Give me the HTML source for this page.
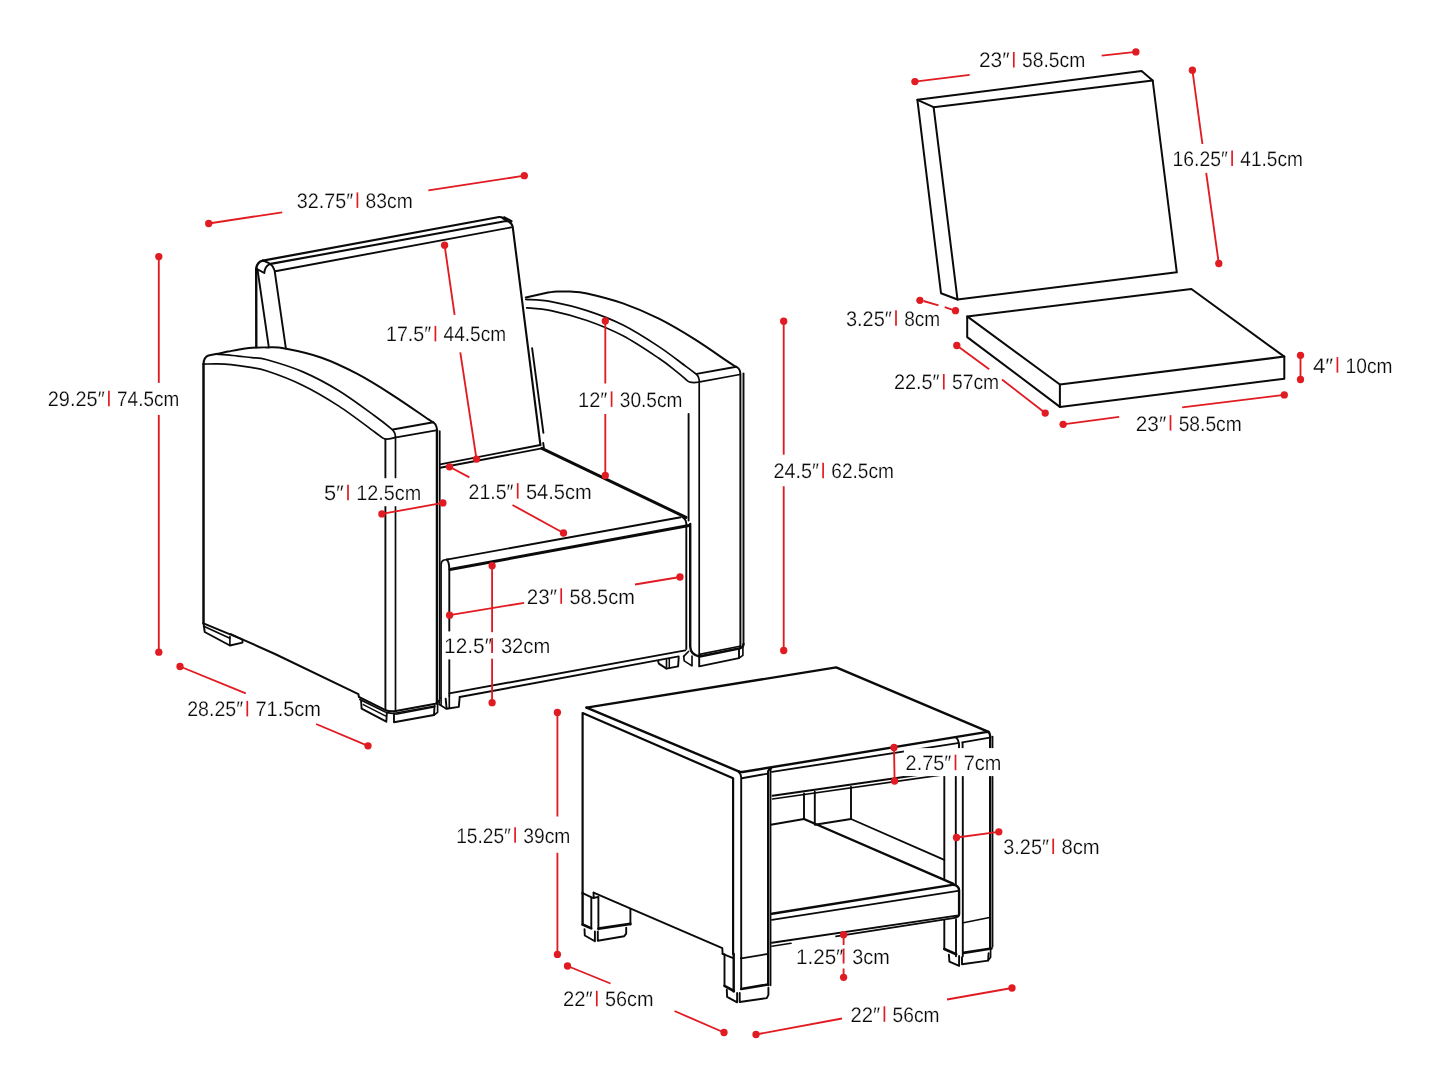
<!DOCTYPE html>
<html><head><meta charset="utf-8"><title>Patio set dimensions</title>
<style>
html,body{margin:0;padding:0;background:#fff;}
body{width:1445px;height:1084px;overflow:hidden;}
svg{display:block;will-change:transform;}
text{font-family:"Liberation Sans",sans-serif;font-size:21.0px;fill:#0a0a0a;stroke:#fff;stroke-width:0.2px;text-rendering:geometricPrecision;}
</style></head><body>
<svg width="1445" height="1084" viewBox="0 0 1445 1084">
<rect width="1445" height="1084" fill="#fff"/>
<g fill="none" stroke="#0a0a0a" stroke-linecap="round" stroke-linejoin="round">
<path d="M262.9,260.6 L499.1,217.0 Q501.5,216.9 503.0,218.2 L506.5,220.4" stroke-width="2.2"/>
<path d="M504.1,217.3 L511.5,221.2" stroke-width="2.2"/>
<path d="M270.7,263.9 L506.1,221.0 Q511.4,221.2 512.7,226.8 L540.4,445.0" stroke-width="2.1"/>
<path d="M275.3,271.2 L511.1,227.4" stroke-width="1.9"/>
<path d="M256.2,268.7 C256.8,263.5 259.5,261.2 262.9,260.6" stroke-width="2.4"/>
<path d="M256.2,268.7 L264.3,273.0 C264.6,268.6 266.5,265.6 269.3,264.3" stroke-width="1.9"/>
<path d="M262.9,260.6 C267.0,262.0 272.8,263.5 274.6,270.5 L285.9,348.6" stroke-width="1.9"/>
<path d="M256.2,268.7 L256.3,347.0" stroke-width="2.4"/>
<path d="M257.5,269.5 L268.8,347.2" stroke-width="1.9"/>
<path d="M532.1,348.2 L543.4,432.9" stroke-width="1.9"/>
<path d="M203.5,364.1 C203.6,359.5 204.8,356.8 208.5,355.5 L208.5,355.5 C209.8,355.3 212.8,354.8 216.0,354.1 C219.2,353.5 224.3,352.3 228.0,351.6 C231.7,350.9 234.5,350.3 238.0,349.7 C241.5,349.1 244.2,348.4 249.0,348.0 C253.8,347.6 261.0,347.3 267.0,347.4 C273.0,347.5 276.0,346.8 285.0,348.5 C294.0,350.2 308.9,353.3 320.9,357.5 C332.9,361.7 344.9,367.4 356.9,373.7 C368.9,380.0 380.9,387.6 392.9,395.3 C404.9,403.0 422.0,415.0 428.9,419.6 C435.8,424.2 433.4,422.6 434.3,423.2 Q436.8,425.2 437.0,430.4 L437.0,703.4" stroke-width="2.0"/>
<path d="M216.0,354.1 C217.8,354.2 223.3,354.6 227.0,354.9 C230.7,355.2 233.8,355.7 238.0,356.1 C242.2,356.6 247.2,357.0 252.0,357.6 C256.8,358.2 258.5,357.4 267.0,359.8 C275.5,362.2 291.0,366.7 303.0,371.9 C315.0,377.1 326.9,383.4 338.9,390.8 C350.9,398.2 366.2,409.7 374.9,416.0 C383.6,422.3 387.8,425.8 391.1,428.6 C394.4,431.4 394.1,432.3 394.7,433.0 Q395.5,435 395.5,438 L395.5,711.0" stroke-width="1.7"/>
<path d="M203.5,364.1 C205.8,364.1 212.8,363.8 217.4,363.9 C222.0,364.0 225.7,364.1 231.0,364.6 C236.3,365.2 243.0,366.1 249.0,367.2 C255.0,368.3 258.0,368.0 267.0,371.0 C276.0,374.0 291.0,379.5 303.0,385.4 C315.0,391.2 326.9,398.3 338.9,406.1 C350.9,413.9 367.7,426.9 374.9,432.2 C382.1,437.4 380.9,436.7 382.1,437.6 Q386,440.5 394.7,437.6 L436.1,430.4" stroke-width="1.7"/>
<path d="M385.4,439.5 L385.4,710.0" stroke-width="1.9"/>
<path d="M392.9,429.5 L433.4,422.3" stroke-width="1.9"/>
<path d="M439.8,431.0 L439.8,698.0" stroke-width="1.6"/>
<path d="M203.5,364.1 L203.5,623.3" stroke-width="2.5"/>
<path d="M203.5,623.3 L243.4,639.8 L275.0,654.0 L358.4,694.2 L358.9,697.0 L384.5,709.6 Q390,712.2 395.8,710.9 L435.4,703.7 Q437.8,703.0 438.1,701.0" stroke-width="2.0"/>
<path d="M437.0,430.4 L437.0,703.4" stroke-width="2.5"/>
<path d="M359.8,699.6 L384.8,711.8 Q390,714.0 396.0,713.0 L435.0,706.0" stroke-width="1.65"/>
<path d="M361.1,701.0 L361.6,708.7 L386.3,721.7 L386.8,713.2" stroke-width="1.9"/>
<path d="M363.3,704.6 L385.4,715.9" stroke-width="1.5"/>
<path d="M394.0,713.4 L394.0,722.2 L434.0,715.0 L434.5,706.2" stroke-width="1.9"/>
<path d="M395.8,714.2 L434.0,707.0" stroke-width="1.5"/>
<path d="M434.0,715.0 L437.6,712.3 L437.6,704.2" stroke-width="1.65"/>
<path d="M439.9,697.9 L439.0,704.2 L446.2,708.7" stroke-width="1.65"/>
<path d="M203.7,624.5 L204.7,632 L229.9,645.5 L242.5,642.6 L242.5,639.7 L230.8,634.0" stroke-width="1.9"/>
<path d="M229.9,636.5 L229.9,645.5" stroke-width="1.65"/>
<path d="M203.7,626.2 L229.9,638.2" stroke-width="1.65"/>
<path d="M525.8,297.6 L548,292.6 Q551,292 553.7,291.7 L553.7,291.7 C556.4,291.7 564.5,291.2 570.0,291.5 C575.5,291.8 578.2,291.5 587.0,293.5 C595.8,295.5 611.0,299.2 623.0,303.4 C635.0,307.6 646.9,312.7 658.9,318.7 C670.9,324.7 682.9,331.9 694.9,339.4 C706.9,346.9 723.8,359.0 730.9,363.7 C738.0,368.4 736.2,366.7 737.2,367.3 Q740.4,369.5 740.4,374.5 L740.4,648.0" stroke-width="2.0"/>
<path d="M525.8,299.4 C530.0,299.8 540.8,299.7 551.0,301.6 C561.2,303.5 575.0,306.7 587.0,310.6 C599.0,314.5 611.0,319.0 623.0,325.0 C635.0,331.0 648.4,339.7 658.9,346.6 C669.4,353.5 679.6,361.8 685.9,366.4 C692.2,371.0 694.9,373.1 696.7,374.5 Q699.1,376.5 699.2,380 L699.2,656.5" stroke-width="1.7"/>
<path d="M526.7,307.9 C530.8,308.3 541.0,308.5 551.0,310.6 C561.0,312.7 575.0,316.3 587.0,320.5 C599.0,324.7 611.0,329.5 623.0,335.8 C635.0,342.1 649.9,352.3 658.9,358.3 C667.9,364.3 672.3,368.2 676.9,371.8 C681.5,375.4 684.9,378.6 686.5,380.0 Q689.5,383.5 698.5,382.2 L739.9,374.5" stroke-width="1.7"/>
<path d="M696.7,373.9 L736.3,366.7" stroke-width="1.9"/>
<path d="M743.5,373.5 L743.5,644.0" stroke-width="1.9"/>
<path d="M688.6,414.0 L688.6,520.5" stroke-width="1.9"/>
<path d="M690.2,524.0 L690.2,646.5 Q690.4,654.8 699.7,656.5 L740.2,648.2 Q743.3,647.4 743.5,644.0" stroke-width="2.4"/>
<path d="M699.4,654.4 L739.8,646.2" stroke-width="1.65"/>
<path d="M699.2,657.0 L699.2,666.4 L739.0,658.1 L739.0,649.5" stroke-width="1.9"/>
<path d="M739.0,658.1 L742.9,655.3 L742.9,647.0" stroke-width="1.65"/>
<path d="M683.7,656.4 L684.2,660.9 L692.0,665.9 L692.0,656.0" stroke-width="1.65"/>
<path d="M683.7,656.4 L688.5,651.5" stroke-width="1.65"/>
<path d="M440.1,464.4 L540.4,445.0" stroke-width="1.9"/>
<path d="M440.1,467.8 L541.8,448.4" stroke-width="1.9"/>
<path d="M543.2,442.9 L543.9,447.8" stroke-width="1.9"/>
<path d="M541.8,448.4 L686.0,517.4" stroke-width="3.0"/>
<path d="M683.0,517.7 Q686.5,519.5 686.4,525.9" stroke-width="1.9"/>
<path d="M446.6,559.6 L680.8,517.3" stroke-width="1.9"/>
<path d="M449.9,569.5 L689.0,525.5" stroke-width="3.0"/>
<path d="M448.5,559.3 L444.2,560.0 Q441.2,560.7 441.1,564.2 L441.1,704.4" stroke-width="1.6"/>
<path d="M446.6,559.6 Q449.2,561.5 449.3,569.9 L449.3,696" stroke-width="1.9"/>
<path d="M686.3,525.9 L686.3,649.1" stroke-width="1.9"/>
<path d="M449.3,693.4 L685.3,650.4" stroke-width="1.9"/>
<path d="M459.7,697.0 L678.7,656.4" stroke-width="1.9"/>
<path d="M658.2,661.4 L658.8,663.6 L666.5,668.6 L678.1,666.4 L678.7,657.6" stroke-width="1.9"/>
<path d="M666.5,659.8 L666.5,668.6" stroke-width="1.65"/>
<path d="M669.3,659.3 L669.3,667.8" stroke-width="1.5"/>
<path d="M445.7,698.8 L446.6,708.7 L458.8,706.9 L459.7,697.0" stroke-width="1.9"/>
<path d="M449.3,696.0 L449.3,708.0" stroke-width="1.65"/>
<path d="M586.5,707.6 L836.2,667.4 L988.6,731.9" stroke-width="2.4"/>
<path d="M586.5,707.6 L738.6,771.3" stroke-width="2.4"/>
<path d="M738.6,771.3 Q740.5,772.3 742.5,772.0 L984.2,732.4 L988.6,731.9 Q990.2,733.4 990.3,737.0" stroke-width="2.4"/>
<path d="M582.6,893.4 L582.6,713.0 L733.1,778.3 L733.1,954.0" stroke-width="2.2"/>
<path d="M738.8,772.2 Q741.1,773.8 741.2,777.5 L741.2,958.4" stroke-width="1.9"/>
<path d="M741.8,778.2 L768.0,773.6" stroke-width="1.9"/>
<path d="M593.6,892.6 L722.3,948.1 L722.6,953.9" stroke-width="1.9"/>
<path d="M768.2,985 L768.2,771.5 Q769,768.6 771.0,768.6" stroke-width="2.4"/>
<path d="M770.6,769.0 L770.6,985.5" stroke-width="1.65"/>
<path d="M771.9,771.9 L957.8,743.1" stroke-width="1.9"/>
<path d="M962.3,742.4 L989.7,737.6" stroke-width="1.9"/>
<path d="M772.5,795.7 L944.0,771.3" stroke-width="1.9"/>
<path d="M772.5,799.0 L944.0,774.6" stroke-width="1.65"/>
<path d="M770.8,824.8 L804.0,819.0" stroke-width="1.9"/>
<path d="M804.0,793.5 L804.0,819.0" stroke-width="1.9"/>
<path d="M814.8,791.8 L814.8,824.8 L851.0,819.0 L851.0,786.8" stroke-width="1.9"/>
<path d="M851.0,819.0 L944.3,859.9" stroke-width="1.9"/>
<path d="M804.0,819.0 L953.5,883.8" stroke-width="2.4"/>
<path d="M944.3,776.0 L944.3,878.8" stroke-width="1.9"/>
<path d="M955.8,776.0 L955.8,884.8" stroke-width="1.9"/>
<path d="M955.8,737.3 Q958.6,739.5 959.0,743.4 L959.0,749.5" stroke-width="1.9"/>
<path d="M962.6,742.8 L962.6,749.5" stroke-width="1.9"/>
<path d="M962.8,776.0 L962.8,956.2" stroke-width="1.9"/>
<path d="M990.2,737.0 L990.2,948.4" stroke-width="2.4"/>
<path d="M992.6,736.6 L992.6,947.0" stroke-width="1.6"/>
<path d="M944.3,920.4 L944.3,949.0" stroke-width="1.9"/>
<path d="M956.0,919.4 L956.0,956.2" stroke-width="1.9"/>
<path d="M963.4,922.8 L989.6,917.5" stroke-width="1.65"/>
<path d="M944.3,949.0 L956.2,954.3" stroke-width="2.6"/>
<path d="M963.4,952.9 L991.5,948.5" stroke-width="2.6"/>
<path d="M948.9,954.8 L949.4,961.6 L959.1,965.9 L959.1,956.0" stroke-width="1.9"/>
<path d="M962.0,957.2 L962.0,964.2 L988.1,960.6 L988.6,953.3" stroke-width="1.9"/>
<path d="M988.1,960.6 L990.6,957.2 L990.6,949.0" stroke-width="1.65"/>
<path d="M771.9,913.7 L952.3,884.9 Q958.6,884.6 959.1,890.5 L959.1,913.8 Q958.8,916.6 956.2,916.9" stroke-width="2.4"/>
<path d="M771.9,919.9 L958.1,890.9" stroke-width="1.65"/>
<path d="M771.9,942.8 L956.7,915.6" stroke-width="1.9"/>
<path d="M771.9,946.2 L791.0,943.3" stroke-width="1.65"/>
<path d="M836.0,936.4 L956.4,917.6" stroke-width="1.65"/>
<path d="M741.2,958.4 L768.1,953.9" stroke-width="1.65"/>
<path d="M722.6,953.9 L733.2,958.1" stroke-width="1.9"/>
<path d="M724.5,954.2 L724.5,985.8" stroke-width="1.9"/>
<path d="M733.7,954.0 L733.7,991.4" stroke-width="2.4"/>
<path d="M724.5,985.8 L733.9,991.0" stroke-width="2.6"/>
<path d="M741.2,989.0 L768.1,984.5" stroke-width="2.6"/>
<path d="M741.2,958.1 L741.2,989.0" stroke-width="1.9"/>
<path d="M726.8,989.7 L727.1,996.8 L737.1,1002.3 L737.1,993.0" stroke-width="1.9"/>
<path d="M739.7,992.9 L739.7,1002.0 L766.8,998.1 L768.4,994.9 L768.4,987.8" stroke-width="1.9"/>
<path d="M582.6,893.2 L592.6,897.8" stroke-width="1.9"/>
<path d="M582.6,893.0 L582.6,924.5" stroke-width="2.4"/>
<path d="M591.3,897.8 L591.3,927.6" stroke-width="1.9"/>
<path d="M593.6,892.6 L593.6,898.0 L598.4,896.8 L598.4,929.6" stroke-width="1.9"/>
<path d="M630.4,909.4 L630.4,924.5" stroke-width="1.9"/>
<path d="M582.6,924.5 L591.3,928.4" stroke-width="2.6"/>
<path d="M598.4,928.6 L630.4,923.9" stroke-width="2.6"/>
<path d="M584.5,929.1 L584.8,935.5 L594.9,941.3 L594.9,931.5" stroke-width="1.9"/>
<path d="M597.8,931.6 L597.8,940.7 L624.2,936.2 L626.2,933.6 L626.2,927.8" stroke-width="1.9"/>
<path d="M917.4,99.8 L1141.6,71.1 L1152.7,80.5 L1176.8,272.3 L957.5,299.5 L941.0,293.2 Z" stroke-width="2.0"/>
<path d="M917.4,99.8 L933.6,107.2 L1152.7,80.5" stroke-width="2.0"/>
<path d="M933.6,107.2 L957.5,299.5" stroke-width="2.0"/>
<path d="M967.2,316.4 L1191.4,289.0 L1284.3,356.6 L1059.9,384.5 Z" stroke-width="2.0"/>
<path d="M967.2,316.4 L967.2,337.1 L1059.9,406.9 L1284.3,378.7 L1284.3,356.6" stroke-width="2.0"/>
<path d="M1059.9,384.5 L1059.9,406.9" stroke-width="2.0"/>
</g>
<g fill="#fff">
<rect x="576.4" y="384.8" width="114.5" height="28"/>
<rect x="322.2" y="478.2" width="107.5" height="28"/>
<rect x="442.4" y="631.4" width="116.3" height="28"/>
<rect x="903.9" y="748.1" width="105.9" height="28"/>
<rect x="794.3" y="941.6" width="103.9" height="28"/>
</g>
<g stroke="#e11b22" stroke-width="1.85" stroke-linecap="butt" fill="none">
<line x1="208.7" y1="223.5" x2="282.2" y2="212.3"/>
<line x1="428.4" y1="190.4" x2="524.3" y2="175.7"/>
<line x1="158.8" y1="256.6" x2="158.8" y2="382.9"/>
<line x1="158.8" y1="414.9" x2="158.8" y2="652.2"/>
<line x1="444.6" y1="245.2" x2="454.6" y2="314.9"/>
<line x1="460.3" y1="352.3" x2="476.5" y2="459.1"/>
<line x1="605.3" y1="321.0" x2="605.3" y2="383.5"/>
<line x1="605.3" y1="414.0" x2="605.3" y2="475.5"/>
<line x1="381.9" y1="513.9" x2="442.9" y2="502.9"/>
<line x1="449.5" y1="466.8" x2="469.4" y2="477.4"/>
<line x1="512.5" y1="505.0" x2="563.5" y2="533.0"/>
<line x1="449.6" y1="615.2" x2="524.1" y2="602.8"/>
<line x1="635.0" y1="584.5" x2="680.0" y2="577.0"/>
<line x1="492.1" y1="565.7" x2="492.1" y2="632.2"/>
<line x1="492.1" y1="638.0" x2="492.1" y2="653.0"/>
<line x1="492.1" y1="658.7" x2="492.1" y2="702.7"/>
<line x1="783.7" y1="321.2" x2="783.7" y2="454.7"/>
<line x1="783.7" y1="486.2" x2="783.7" y2="650.5"/>
<line x1="180.0" y1="666.5" x2="245.8" y2="693.4"/>
<line x1="316.1" y1="724.0" x2="368.0" y2="745.8"/>
<line x1="914.9" y1="81.6" x2="969.7" y2="74.8"/>
<line x1="1101.7" y1="55.7" x2="1135.9" y2="51.9"/>
<line x1="1192.4" y1="70.2" x2="1202.4" y2="144.0"/>
<line x1="1206.2" y1="172.8" x2="1218.8" y2="263.5"/>
<line x1="923.5" y1="301.0" x2="938.5" y2="305.3"/>
<line x1="944.7" y1="307.2" x2="952.0" y2="309.6"/>
<line x1="956.8" y1="345.5" x2="989.2" y2="369.3"/>
<line x1="1002.0" y1="379.5" x2="1045.2" y2="413.1"/>
<line x1="1063.1" y1="424.3" x2="1119.2" y2="416.8"/>
<line x1="1182.2" y1="407.4" x2="1284.3" y2="394.9"/>
<line x1="1300.5" y1="355.3" x2="1300.5" y2="379.5"/>
<line x1="557.4" y1="712.5" x2="557.4" y2="816.5"/>
<line x1="557.4" y1="852.8" x2="557.4" y2="954.4"/>
<line x1="567.5" y1="966.0" x2="610.5" y2="983.5"/>
<line x1="674.5" y1="1011.0" x2="724.0" y2="1032.5"/>
<line x1="756.0" y1="1034.5" x2="842.0" y2="1018.5"/>
<line x1="947.0" y1="999.5" x2="1012.0" y2="988.0"/>
<line x1="894.0" y1="747.5" x2="894.6" y2="781.0"/>
<line x1="956.5" y1="837.5" x2="998.8" y2="831.8"/>
<line x1="843.6" y1="934.7" x2="843.6" y2="945.0"/>
<line x1="843.6" y1="948.5" x2="843.6" y2="963.5"/>
<line x1="843.6" y1="968.5" x2="843.6" y2="977.3"/>
</g>
<g fill="#e11b22">
<circle cx="208.7" cy="223.5" r="3.65"/>
<circle cx="524.3" cy="175.7" r="3.65"/>
<circle cx="158.8" cy="256.6" r="3.65"/>
<circle cx="158.8" cy="652.2" r="3.65"/>
<circle cx="444.6" cy="245.2" r="3.65"/>
<circle cx="476.5" cy="459.1" r="3.65"/>
<circle cx="605.3" cy="321.0" r="3.65"/>
<circle cx="605.3" cy="475.5" r="3.65"/>
<circle cx="381.9" cy="513.9" r="3.65"/>
<circle cx="442.9" cy="502.9" r="3.65"/>
<circle cx="449.5" cy="466.8" r="3.65"/>
<circle cx="563.5" cy="533.0" r="3.65"/>
<circle cx="449.6" cy="615.2" r="3.65"/>
<circle cx="680.0" cy="577.0" r="3.65"/>
<circle cx="492.1" cy="565.7" r="3.65"/>
<circle cx="492.1" cy="702.7" r="3.65"/>
<circle cx="783.7" cy="321.2" r="3.65"/>
<circle cx="783.7" cy="650.5" r="3.65"/>
<circle cx="180.0" cy="666.5" r="3.65"/>
<circle cx="368.0" cy="745.8" r="3.65"/>
<circle cx="914.9" cy="81.6" r="3.65"/>
<circle cx="1135.9" cy="51.9" r="3.65"/>
<circle cx="1192.4" cy="70.2" r="3.65"/>
<circle cx="1218.8" cy="263.5" r="3.65"/>
<circle cx="919.9" cy="300.3" r="3.65"/>
<circle cx="955.5" cy="310.7" r="3.65"/>
<circle cx="956.8" cy="345.5" r="3.65"/>
<circle cx="1045.2" cy="413.1" r="3.65"/>
<circle cx="1063.1" cy="424.3" r="3.65"/>
<circle cx="1284.3" cy="394.9" r="3.65"/>
<circle cx="1300.5" cy="355.3" r="3.65"/>
<circle cx="1300.5" cy="379.5" r="3.65"/>
<circle cx="557.4" cy="712.5" r="3.65"/>
<circle cx="557.4" cy="954.4" r="3.65"/>
<circle cx="567.5" cy="966.0" r="3.65"/>
<circle cx="724.0" cy="1032.5" r="3.65"/>
<circle cx="756.0" cy="1034.5" r="3.65"/>
<circle cx="1012.0" cy="988.0" r="3.65"/>
<circle cx="894.0" cy="747.5" r="3.65"/>
<circle cx="894.6" cy="781.0" r="3.65"/>
<circle cx="956.5" cy="837.5" r="3.65"/>
<circle cx="998.8" cy="831.8" r="3.65"/>
<circle cx="843.6" cy="934.7" r="3.65"/>
<circle cx="843.6" cy="977.3" r="3.65"/>
</g>
<g>
<text x="296.8" y="207.8" textLength="56.4" lengthAdjust="spacingAndGlyphs">32.75″</text><line x1="357.4" y1="192.4" x2="357.4" y2="207.9" stroke="#e11b22" stroke-width="1.7"/><text x="365.6" y="207.8" textLength="47.1" lengthAdjust="spacingAndGlyphs">83cm</text>
<text x="47.8" y="406.2" textLength="56.9" lengthAdjust="spacingAndGlyphs">29.25″</text><line x1="108.9" y1="390.8" x2="108.9" y2="406.3" stroke="#e11b22" stroke-width="1.7"/><text x="117.1" y="406.2" textLength="62.1" lengthAdjust="spacingAndGlyphs">74.5cm</text>
<text x="386.0" y="341.3" textLength="45.2" lengthAdjust="spacingAndGlyphs">17.5″</text><line x1="435.4" y1="325.9" x2="435.4" y2="341.4" stroke="#e11b22" stroke-width="1.7"/><text x="443.6" y="341.3" textLength="62.5" lengthAdjust="spacingAndGlyphs">44.5cm</text>
<text x="578.1" y="406.8" textLength="29.3" lengthAdjust="spacingAndGlyphs">12″</text><line x1="611.6" y1="391.4" x2="611.6" y2="406.9" stroke="#e11b22" stroke-width="1.7"/><text x="619.8" y="406.8" textLength="62.6" lengthAdjust="spacingAndGlyphs">30.5cm</text>
<text x="323.9" y="500.2" textLength="19.9" lengthAdjust="spacingAndGlyphs">5″</text><line x1="348.0" y1="484.8" x2="348.0" y2="500.3" stroke="#e11b22" stroke-width="1.7"/><text x="356.2" y="500.2" textLength="65.0" lengthAdjust="spacingAndGlyphs">12.5cm</text>
<text x="468.6" y="498.5" textLength="44.9" lengthAdjust="spacingAndGlyphs">21.5″</text><line x1="517.7" y1="483.1" x2="517.7" y2="498.6" stroke="#e11b22" stroke-width="1.7"/><text x="525.9" y="498.5" textLength="65.8" lengthAdjust="spacingAndGlyphs">54.5cm</text>
<text x="526.8" y="603.7" textLength="30.2" lengthAdjust="spacingAndGlyphs">23″</text><line x1="561.2" y1="588.3" x2="561.2" y2="603.8" stroke="#e11b22" stroke-width="1.7"/><text x="569.4" y="603.7" textLength="65.4" lengthAdjust="spacingAndGlyphs">58.5cm</text>
<text x="444.1" y="653.4" textLength="48.0" lengthAdjust="spacingAndGlyphs">12.5″</text><text x="500.9" y="653.4" textLength="49.3" lengthAdjust="spacingAndGlyphs">32cm</text>
<text x="773.4" y="478.1" textLength="45.5" lengthAdjust="spacingAndGlyphs">24.5″</text><line x1="823.1" y1="462.7" x2="823.1" y2="478.2" stroke="#e11b22" stroke-width="1.7"/><text x="831.3" y="478.1" textLength="62.6" lengthAdjust="spacingAndGlyphs">62.5cm</text>
<text x="187.2" y="716.3" textLength="55.9" lengthAdjust="spacingAndGlyphs">28.25″</text><line x1="247.3" y1="700.9" x2="247.3" y2="716.4" stroke="#e11b22" stroke-width="1.7"/><text x="255.5" y="716.3" textLength="65.5" lengthAdjust="spacingAndGlyphs">71.5cm</text>
<text x="978.9" y="67.4" textLength="30.7" lengthAdjust="spacingAndGlyphs">23″</text><line x1="1013.8" y1="52.0" x2="1013.8" y2="67.5" stroke="#e11b22" stroke-width="1.7"/><text x="1022.0" y="67.4" textLength="63.3" lengthAdjust="spacingAndGlyphs">58.5cm</text>
<text x="1172.5" y="165.9" textLength="55.4" lengthAdjust="spacingAndGlyphs">16.25″</text><line x1="1232.1" y1="150.5" x2="1232.1" y2="166.0" stroke="#e11b22" stroke-width="1.7"/><text x="1240.3" y="165.9" textLength="62.6" lengthAdjust="spacingAndGlyphs">41.5cm</text>
<text x="845.9" y="325.7" textLength="45.9" lengthAdjust="spacingAndGlyphs">3.25″</text><line x1="896.0" y1="310.3" x2="896.0" y2="325.8" stroke="#e11b22" stroke-width="1.7"/><text x="904.2" y="325.7" textLength="36.1" lengthAdjust="spacingAndGlyphs">8cm</text>
<text x="893.9" y="389.4" textLength="45.7" lengthAdjust="spacingAndGlyphs">22.5″</text><line x1="943.8" y1="374.0" x2="943.8" y2="389.5" stroke="#e11b22" stroke-width="1.7"/><text x="952.0" y="389.4" textLength="47.2" lengthAdjust="spacingAndGlyphs">57cm</text>
<text x="1135.8" y="430.5" textLength="30.5" lengthAdjust="spacingAndGlyphs">23″</text><line x1="1170.5" y1="415.1" x2="1170.5" y2="430.6" stroke="#e11b22" stroke-width="1.7"/><text x="1178.7" y="430.5" textLength="63.0" lengthAdjust="spacingAndGlyphs">58.5cm</text>
<text x="1312.9" y="372.5" textLength="20.3" lengthAdjust="spacingAndGlyphs">4″</text><line x1="1337.4" y1="357.1" x2="1337.4" y2="372.6" stroke="#e11b22" stroke-width="1.7"/><text x="1345.6" y="372.5" textLength="46.8" lengthAdjust="spacingAndGlyphs">10cm</text>
<text x="456.2" y="842.6" textLength="54.7" lengthAdjust="spacingAndGlyphs">15.25″</text><line x1="515.1" y1="827.2" x2="515.1" y2="842.7" stroke="#e11b22" stroke-width="1.7"/><text x="523.3" y="842.6" textLength="47.1" lengthAdjust="spacingAndGlyphs">39cm</text>
<text x="562.9" y="1006.2" textLength="29.7" lengthAdjust="spacingAndGlyphs">22″</text><line x1="596.8" y1="990.8" x2="596.8" y2="1006.3" stroke="#e11b22" stroke-width="1.7"/><text x="605.0" y="1006.2" textLength="48.6" lengthAdjust="spacingAndGlyphs">56cm</text>
<text x="850.4" y="1021.7" textLength="29.8" lengthAdjust="spacingAndGlyphs">22″</text><line x1="884.4" y1="1006.3" x2="884.4" y2="1021.8" stroke="#e11b22" stroke-width="1.7"/><text x="892.6" y="1021.7" textLength="46.9" lengthAdjust="spacingAndGlyphs">56cm</text>
<text x="905.6" y="770.1" textLength="45.7" lengthAdjust="spacingAndGlyphs">2.75″</text><line x1="955.5" y1="754.7" x2="955.5" y2="770.2" stroke="#e11b22" stroke-width="1.7"/><text x="963.7" y="770.1" textLength="37.6" lengthAdjust="spacingAndGlyphs">7cm</text>
<text x="1003.3" y="854.0" textLength="45.7" lengthAdjust="spacingAndGlyphs">3.25″</text><line x1="1053.2" y1="838.6" x2="1053.2" y2="854.1" stroke="#e11b22" stroke-width="1.7"/><text x="1061.4" y="854.0" textLength="38.3" lengthAdjust="spacingAndGlyphs">8cm</text>
<text x="796.0" y="963.6" textLength="47.4" lengthAdjust="spacingAndGlyphs">1.25″</text><text x="852.2" y="963.6" textLength="37.5" lengthAdjust="spacingAndGlyphs">3cm</text>
</g>
</svg>
</body></html>
